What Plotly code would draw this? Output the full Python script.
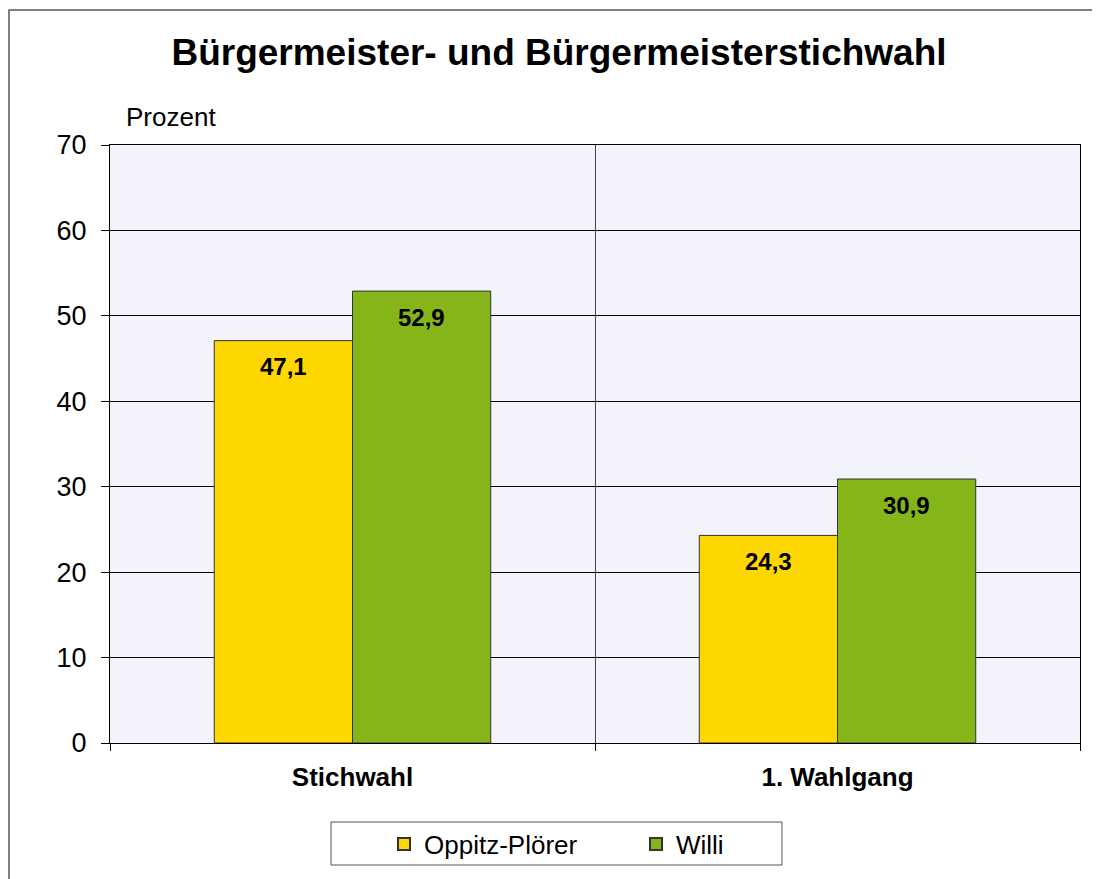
import plotly.graph_objects as go

categories = ["Stichwahl", "1. Wahlgang"]
oppitz = [47.1, 24.3]
willi = [52.9, 30.9]
series_names = ["Oppitz-Plörer", "Willi"]
y_ticks = [0, 10, 20, 30, 40, 50, 60, 70]

OFF = 8  # page body margin
W, H = 1100 - OFF, 879 - OFF
L, R, T, B = 110 - OFF, 20, 145 - OFF, 136
pw, ph = W - L - R, H - T - B
FONT = "Arial, Liberation Sans"

def px_x(p):
    return (p - OFF - L) / pw

def px_y(p):
    return (H - B - (p - OFF)) / ph

fig = go.Figure()
colors = ["#FFD700", "#85B518"]
for name, vals, col in [(series_names[0], oppitz, colors[0]), (series_names[1], willi, colors[1])]:
    fig.add_trace(go.Bar(
        x=categories, y=vals, name=name,
        marker=dict(color=col, line=dict(color="#333333", width=1)),
        hoverinfo="skip",
    ))

annotations = []
for vals, shift in [(oppitz, -69), (willi, 69)]:
    for c, v in zip(categories, vals):
        annotations.append(dict(
            x=c, y=v, xref="x", yref="y", text=f"{v:.1f}".replace(".", ","),
            showarrow=False, xshift=shift, yshift=-26, yanchor="middle",
            font=dict(family=FONT, size=24, color="black", weight="bold")))

annotations.append(dict(text="Prozent", xref="paper", yref="paper", x=px_x(124), y=px_y(117),
                        xanchor="left", yanchor="middle", showarrow=False,
                        font=dict(size=26, family=FONT)))

fig.update_layout(
    width=W, height=H,
    margin=dict(l=L, r=R, t=T, b=B),
    paper_bgcolor="white", plot_bgcolor="#F3F3FC",
    barmode="group", bargap=0.43, bargroupgap=0,
    font=dict(family=FONT, color="black"),
    title=dict(text="<b>Bürgermeister- und Bürgermeisterstichwahl</b>",
               x=px_x(559) * pw / W + L / W, xanchor="center", y=1 - (52 - OFF) / H, yanchor="middle",
               font=dict(size=37, family=FONT)),
    showlegend=True,
    legend=dict(orientation="h", x=px_x(384), xanchor="left", y=px_y(844), yanchor="middle",
                borderwidth=0, bgcolor="rgba(0,0,0,0)",
                font=dict(size=26, family=FONT),
                entrywidth=207, itemsizing="constant"),
    xaxis=dict(type="category", tickson="boundaries", showgrid=True, gridcolor="#444444", gridwidth=1,
               ticks="outside", ticklen=7, tickcolor="black",
               showline=True, linecolor="black", linewidth=1, mirror=True,
               tickfont=dict(size=26, family=FONT, weight="bold"),
               ticklabelstandoff=11),
    yaxis=dict(range=[0, 70], tickvals=y_ticks, showgrid=True, gridcolor="black", gridwidth=1,
               ticks="outside", ticklen=8, tickcolor="black",
               showline=True, linecolor="black", linewidth=1, mirror=True, zeroline=False,
               tickfont=dict(size=27, family=FONT), ticklabelstandoff=9),
    annotations=annotations,
    shapes=[
        dict(type="rect", xref="paper", yref="paper",
             x0=(1 - L) / pw, x1=px_x(1120), y0=px_y(900), y1=px_y(10),
             line=dict(color="#555555", width=1.5), layer="below"),
        dict(type="rect", xref="paper", yref="paper",
             x0=px_x(331), x1=px_x(782), y0=px_y(865), y1=px_y(822),
             line=dict(color="#555555", width=1), fillcolor="white", layer="below"),
    ],
)

fig.write_html("out.html")
